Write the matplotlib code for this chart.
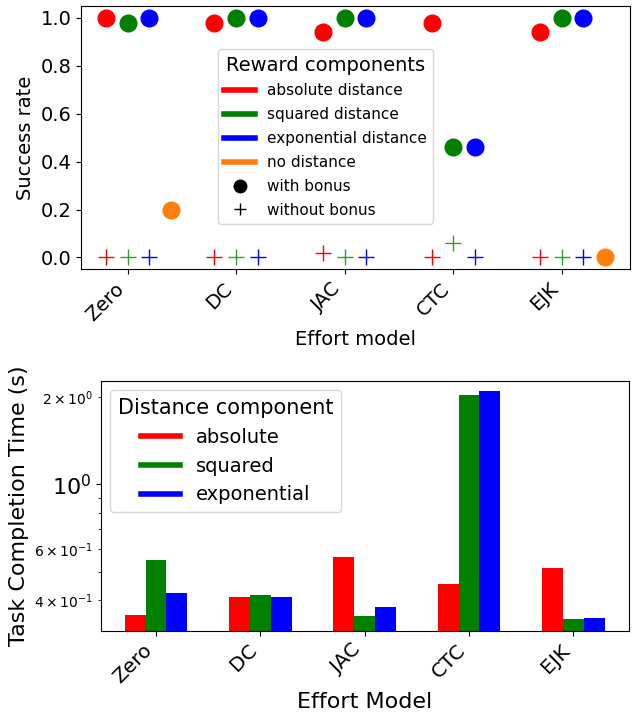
import numpy as np
import matplotlib
matplotlib.use("Agg")
import matplotlib.pyplot as plt
from matplotlib.lines import Line2D

models = ["Zero", "DC", "JAC", "CTC", "EJK"]

# Success rate with bonus
abs_bonus = [1.0, 0.98, 0.94, 0.98, 0.94]
sq_bonus = [0.98, 1.0, 1.0, 0.46, 1.0]
exp_bonus = [1.0, 1.0, 1.0, 0.46, 1.0]
nodist_models = [0, 4]
nodist_bonus = [0.2, 0.0]

# Success rate without bonus
abs_nobonus = [0.0, 0.0, 0.02, 0.0, 0.0]
sq_nobonus = [0.0, 0.0, 0.0, 0.06, 0.0]
exp_nobonus = [0.0, 0.0, 0.0, 0.0, 0.0]

# Task completion time (s)
time_abs = [0.355, 0.410, 0.562, 0.453, 0.514]
time_sq = [0.549, 0.417, 0.353, 2.03, 0.344]
time_exp = [0.423, 0.410, 0.378, 2.09, 0.348]

fig = plt.figure(figsize=(6.34, 7.13), dpi=100)
ax1 = fig.add_axes([0.1278, 0.6222, 0.866, 0.3694])
ax2 = fig.add_axes([0.1588, 0.1154, 0.8328, 0.3506])

x = np.arange(len(models))
ms = 12
ax1.plot(x - 0.2, abs_bonus, 'o', color='red', ms=ms, ls='none')
ax1.plot(x, sq_bonus, 'o', color='green', ms=ms, ls='none')
ax1.plot(x + 0.2, exp_bonus, 'o', color='blue', ms=ms, ls='none')
ax1.plot(np.array(nodist_models) + 0.4, nodist_bonus, 'o', color='tab:orange', ms=ms, ls='none')
ax1.plot(x - 0.2, abs_nobonus, '+', color='red', ms=12, ls='none')
ax1.plot(x, sq_nobonus, '+', color='tab:green', ms=12, ls='none')
ax1.plot(x + 0.2, exp_nobonus, '+', color='blue', ms=12, ls='none')
ax1.set_xticks(x)
ax1.set_xticklabels(models, rotation=45, ha='right', fontsize=14)
ax1.tick_params(axis='y', labelsize=14)
ax1.set_ylabel("Success rate", fontsize=14)
ax1.set_xlabel("Effort model", fontsize=14)
handles = [
    Line2D([0], [0], color='red', lw=4, label='absolute distance'),
    Line2D([0], [0], color='green', lw=4, label='squared distance'),
    Line2D([0], [0], color='blue', lw=4, label='exponential distance'),
    Line2D([0], [0], color='tab:orange', lw=4, label='no distance'),
    Line2D([0], [0], marker='o', color='black', ls='none', ms=9, label='with bonus'),
    Line2D([0], [0], marker='+', color='black', ls='none', ms=9, label='without bonus'),
]
ax1.legend(handles=handles, title="Reward components", fontsize=11, title_fontsize=14,
           loc='upper left', bbox_to_anchor=(0.25, 0.835), borderaxespad=0.0,
           labelspacing=0.58)

w = 0.2
ax2.bar(x - w, time_abs, w, color='red', label='absolute')
ax2.bar(x, time_sq, w, color='green', label='squared')
ax2.bar(x + w, time_exp, w, color='blue', label='exponential')
ax2.set_yscale('log')
ax2.set_ylim(0.314, 2.27)
ax2.set_xticks(x)
ax2.set_xticklabels(models, rotation=45, ha='right', fontsize=14.5)
ax2.tick_params(axis='y', which='major', labelsize=16)
ax2.set_ylabel("Task Completion Time (s)", fontsize=16)
ax2.set_xlabel("Effort Model", fontsize=16)
leg_handles = [
    Line2D([0], [0], color='red', lw=4, label='absolute'),
    Line2D([0], [0], color='green', lw=4, label='squared'),
    Line2D([0], [0], color='blue', lw=4, label='exponential'),
]
ax2.legend(handles=leg_handles, title="Distance component", fontsize=14, title_fontsize=15,
           loc='upper left')

fig.savefig("out.png", dpi=100)
